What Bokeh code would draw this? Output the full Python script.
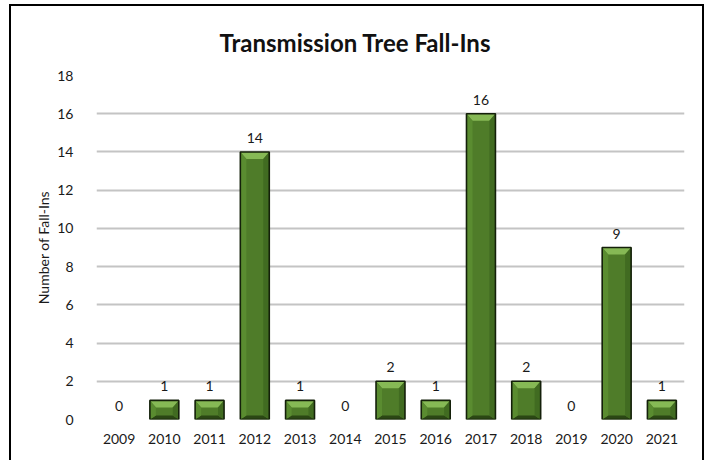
from bokeh.plotting import figure
from bokeh.models import ColumnDataSource, Range1d, FixedTicker, LabelSet
from bokeh.core.properties import value
from bokeh.embed import file_html
from bokeh.resources import INLINE

# ---- data ----
years = ["2009", "2010", "2011", "2012", "2013", "2014", "2015",
         "2016", "2017", "2018", "2019", "2020", "2021"]
fall_ins = [0, 1, 1, 14, 1, 0, 2, 1, 16, 2, 0, 9, 1]
y_ticks = [0, 2, 4, 6, 8, 10, 12, 14, 16, 18]
title_text = "Transmission Tree Fall-Ins"
y_label = "Number of Fall-Ins"

# ---- style constants ----
W, H = 695, 456
BAR_W = 0.64
FONT = "Lato"
TXT = "#1a1a1a"
PX_X = 584 / 13.0        # pixels per category (approx)
PX_Y = 344 / 18.0        # pixels per unit
TOP_D = 7 / PX_Y         # bevel depth (data units)
BOT_D = 4 / PX_Y
INS = 6 / PX_X           # bevel inset (data units)

xs = list(range(len(years)))
src = ColumnDataSource(dict(x=xs, y=fall_ins, lab=[str(v) for v in fall_ins]))

p = figure(width=W, height=H, output_backend="svg", toolbar_location=None,
           x_range=Range1d(-0.5, len(years) - 0.5), y_range=Range1d(0, 18),
           min_border_left=85, min_border_right=22, min_border_top=69,
           min_border_bottom=43, title=title_text)
p.styles = {"border-top": "2px solid black", "border-left": "2px solid black",
            "border-right": "2px solid black", "margin-left": "9px",
            "margin-top": "4px"}
p.outline_line_color = None
p.background_fill_color = "white"
p.border_fill_color = "white"

# title
p.title.align = "left"
p.title.offset = 123
p.title.text_font = FONT
p.title.text_font_size = "24px"
p.title.text_font_style = "bold"
p.title.text_color = "#111111"
p.title.standoff = 38

# grid
p.xgrid.grid_line_color = None
p.ygrid.grid_line_color = "#c4c4c4"
p.ygrid.grid_line_width = 2
p.yaxis.ticker = FixedTicker(ticks=y_ticks)
p.xaxis.ticker = FixedTicker(ticks=xs)
p.xaxis.major_label_overrides = {i: y for i, y in enumerate(years)}

for ax in (p.xaxis[0], p.yaxis[0]):
    ax.major_tick_line_color = None
    ax.minor_tick_line_color = None
    ax.axis_line_color = None
    ax.major_label_text_font = FONT
    ax.major_label_text_font_size = "14px"
    ax.major_label_text_color = TXT
p.xaxis.major_label_standoff = 8
p.yaxis.major_label_standoff = 17
p.yaxis.axis_label = y_label
p.yaxis.axis_label_text_font = FONT
p.yaxis.axis_label_text_font_size = "14px"
p.yaxis.axis_label_text_font_style = "normal"
p.yaxis.axis_label_text_color = TXT
p.yaxis.axis_label_standoff = 2

# bars (only non-zero)
nz = [(x, v) for x, v in zip(xs, fall_ins) if v > 0]
bx = [x for x, v in nz]
bv = [v for x, v in nz]
p.vbar(x=bx, top=bv, bottom=0, width=BAR_W, fill_color="#4f7c29",
       line_color=None)

hw = BAR_W / 2
# top bevel (light)
top_xs = [[x - hw, x + hw, x + hw - INS, x - hw + INS] for x in bx]
top_ys = [[v, v, v - TOP_D, v - TOP_D] for v in bv]
p.patches(top_xs, top_ys, fill_color="#86b955", line_color=None)
# bottom bevel (dark)
bot_xs = [[x - hw, x + hw, x + hw - INS, x - hw + INS] for x in bx]
bot_ys = [[0, 0, BOT_D, BOT_D] for v in bv]
p.patches(bot_xs, bot_ys, fill_color="#2b4714", line_color=None)
# left side slightly lighter, right side darker
l_xs = [[x - hw, x - hw + INS, x - hw + INS, x - hw] for x in bx]
l_ys = [[v, v - TOP_D, BOT_D, 0] for v in bv]
p.patches(l_xs, l_ys, fill_color="#5a8c30", line_color=None)
r_xs = [[x + hw, x + hw - INS, x + hw - INS, x + hw] for x in bx]
r_ys = [[v, v - TOP_D, BOT_D, 0] for v in bv]
p.patches(r_xs, r_ys, fill_color="#416b21", line_color=None)
# outline
p.vbar(x=bx, top=bv, bottom=0, width=BAR_W, fill_color=None,
       line_color="#14200a", line_width=1.6)

# value labels
labels = LabelSet(x="x", y="y", text="lab", source=src, y_offset=14,
                  text_align="center", text_baseline="middle",
                  text_font=value(FONT), text_font_size=value("14px"),
                  text_color=TXT)
p.add_layout(labels)

open("out.html", "w").write(file_html(p, INLINE))
